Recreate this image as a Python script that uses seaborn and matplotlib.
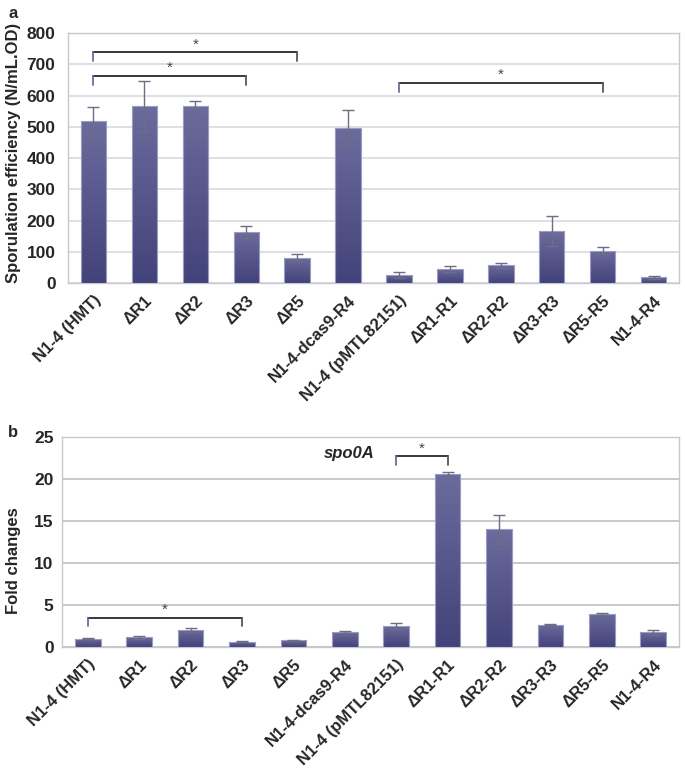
import numpy as np
import pandas as pd
import matplotlib
matplotlib.use('Agg')
import matplotlib.pyplot as plt
import seaborn as sns
from matplotlib.colors import LinearSegmentedColormap

# Datos
cepas = ['N1-4 (HMT)', 'ΔR1', 'ΔR2', 'ΔR3', 'ΔR5', 'N1-4-dcas9-R4',
         'N1-4 (pMTL82151)', 'ΔR1-R1', 'ΔR2-R2', 'ΔR3-R3', 'ΔR5-R5', 'N1-4-R4']
esporulacion = [518, 567, 567, 162, 81, 495, 26, 44, 56, 165, 104, 18]
esporulacion_err = [44, 81, 16, 19, 12, 59, 9, 9, 9, 48, 10, 5]
fold = [1.0, 1.15, 2.07, 0.64, 0.8, 1.75, 2.5, 20.66, 14.0, 2.67, 3.94, 1.75]
fold_err = [0.05, 0.22, 0.23, 0.08, 0.08, 0.12, 0.32, 0.16, 1.7, 0.08, 0.12, 0.28]

# brackets: (bar inicio, bar fin, altura, caida, altura estrella)
brackets_a = [(0, 4, 739, 29, 763), (0, 3, 663, 28, 689), (6, 10, 639, 27, 665)]
brackets_b = [(0, 3, 3.5, 1.03, 4.46), (6, 7, 22.8, 1.1, 23.6)]

sns.set_style('white')
plt.rcParams['font.family'] = ['Liberation Sans', 'DejaVu Sans']

df_a = pd.DataFrame({'cepa': cepas, 'valor': esporulacion})
df_b = pd.DataFrame({'cepa': cepas, 'valor': fold})

cmap = LinearSegmentedColormap.from_list('barra', ['#43437b', '#6b6b9d'])
grad = np.linspace(0, 1, 100).reshape(-1, 1)


def dibujar(ax, df, err, grid_color, ylim, yticks):
    sns.barplot(data=df, x='cepa', y='valor', ax=ax, width=0.5,
                color='#4c4c86', saturation=1, errorbar=None, zorder=3)
    for p in ax.patches:
        x0, y0 = p.get_x(), p.get_y()
        w, h = p.get_width(), p.get_height()
        p.set_facecolor('none')
        p.set_edgecolor('#9a9acb')
        p.set_linewidth(0.8)
        p.set_zorder(4)
        im = ax.imshow(grad, extent=[x0, x0 + w, y0, y0 + h], origin='lower',
                       cmap=cmap, aspect='auto', zorder=3)
        im.set_clip_path(p)
    ax.errorbar(np.arange(len(df)), df['valor'], yerr=err, fmt='none',
                ecolor='#6e6e82', elinewidth=1, capsize=4, capthick=1, zorder=5)
    ax.set_xlim(-0.5, len(df) - 0.5)
    ax.set_ylim(*ylim)
    ax.set_yticks(yticks)
    ax.yaxis.grid(True, color=grid_color, lw=1.3, zorder=0)
    ax.set_axisbelow(True)
    for s in ax.spines.values():
        s.set_visible(True)
        s.set_color('#c8c8d2')
        s.set_linewidth(1)
    ax.set_xlabel('')
    ax.tick_params(length=0)
    for lab in ax.get_yticklabels():
        lab.set_fontweight('bold')
        lab.set_fontsize(12.5)
    ax.set_xticks(range(len(cepas)))
    ax.set_xticklabels(cepas, rotation=45, ha='right', rotation_mode='anchor',
                       fontsize=12, fontweight='bold')


def bracket(ax, x1, x2, y, caida, y_star):
    ax.plot([x1, x2], [y, y], color='#2a2a2a', lw=1.3, zorder=6)
    ax.plot([x1, x1], [y, y - caida], color='#6a6aaa', lw=1.3, zorder=6)
    ax.plot([x2, x2], [y, y - caida], color='#555566', lw=1.3, zorder=6)
    ax.text((x1 + x2) / 2, y_star, '*', ha='center', va='center',
            fontsize=11, color='#444444', zorder=6)


fig = plt.figure(figsize=(6.85, 7.69), dpi=100)
ax1 = fig.add_axes([0.0993, 0.632, 0.892, 0.325])
ax2 = fig.add_axes([0.0905, 0.1586, 0.9007, 0.273])

dibujar(ax1, df_a, esporulacion_err, '#dcdce6', (0, 800), range(0, 801, 100))
ax1.tick_params(axis='y', pad=9)
ax1.tick_params(axis='x', pad=7)
ax1.set_ylabel('Sporulation efficiency (N/mL.OD)', fontsize=12,
               fontweight='bold')
ax1.yaxis.set_label_coords(-0.077, 0.52)
for b in brackets_a:
    bracket(ax1, *b)

dibujar(ax2, df_b, fold_err, '#c4c4c4', (0, 25), range(0, 26, 5))
ax2.tick_params(axis='y', pad=6)
ax2.tick_params(axis='x', pad=7)
ax2.set_ylabel('Fold changes', fontsize=12, fontweight='bold')
ax2.yaxis.set_label_coords(-0.067, 0.41)
for b in brackets_b:
    bracket(ax2, *b)
ax2.text(5.08, 23.1, 'spo0A', ha='center', va='center', fontsize=12,
         fontweight='bold', fontstyle='italic')

fig.text(0.012, 0.992, 'a', fontsize=12, fontweight='bold', va='top')
fig.text(0.012, 0.447, 'b', fontsize=12, fontweight='bold', va='top')

plt.savefig('out.png', dpi=100)
